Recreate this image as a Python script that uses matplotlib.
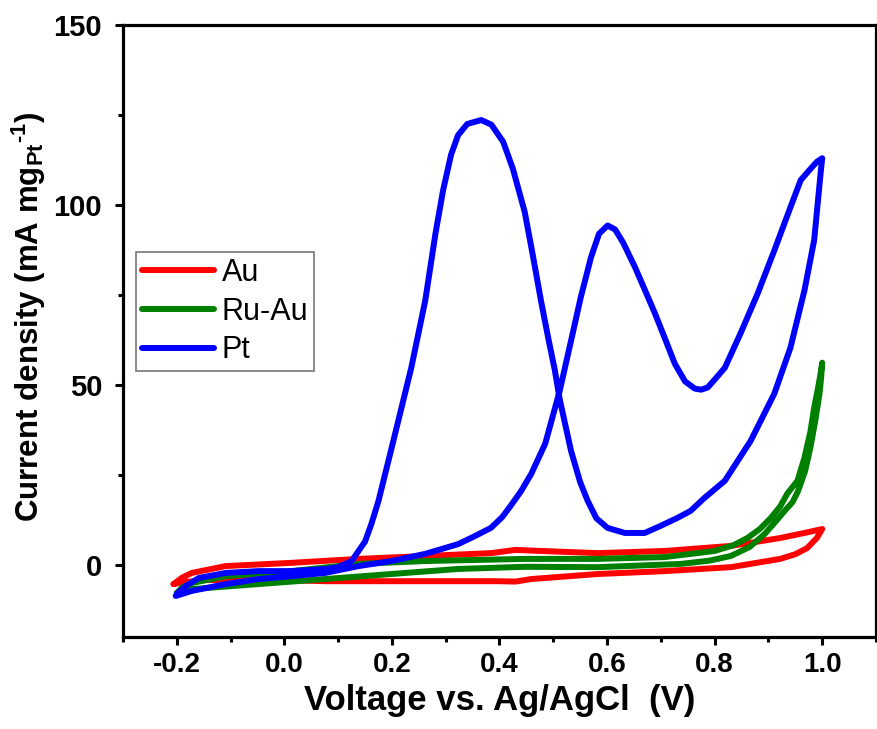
import matplotlib
matplotlib.use("Agg")
import matplotlib.pyplot as plt
from matplotlib.ticker import MultipleLocator

# CV loops (V vs Ag/AgCl, mA mg_Pt^-1)
au_v = [-0.206, -0.19, -0.172, -0.109, 0.013, 0.138, 0.262, 0.384, 0.43, 0.459, 0.583,
        0.707, 0.830, 0.922, 0.97, 1.0, 0.99, 0.972, 0.950, 0.922, 0.830, 0.707, 0.583,
        0.459, 0.43, 0.397, 0.323, 0.199, 0.076, -0.048, -0.15, -0.19, -0.206]
au_i = [-5.3, -3.5, -2.2, -0.3, 0.6, 1.7, 2.5, 3.3, 4.2, 4.0, 3.3,
        3.9, 5.3, 7.5, 9.0, 10.0, 7.5, 4.7, 3.0, 1.7, -0.6, -1.7, -2.5,
        -3.9, -4.6, -4.5, -4.5, -4.5, -4.5, -4.0, -4.2, -4.8, -5.3]

ruau_v = [-0.2, -0.19, -0.172, -0.109, 0.013, 0.138, 0.262, 0.447, 0.583, 0.707, 0.8,
          0.835, 0.861, 0.884, 0.904, 0.922, 0.935, 0.954, 0.967, 0.978, 0.985, 0.992,
          0.997, 1.0, 0.998, 0.995, 0.987, 0.978, 0.968, 0.955, 0.945, 0.930, 0.910,
          0.893, 0.865, 0.830, 0.790, 0.737, 0.583, 0.447, 0.323, 0.199, 0.076,
          -0.048, -0.172, -0.19, -0.2]
ruau_i = [-7.8, -6.2, -5.0, -3.1, -1.7, 0.3, 1.1, 1.7, 1.7, 2.2, 3.9,
          5.5, 7.5, 10.0, 13.0, 16.3, 19.8, 23.4, 29.8, 37.0, 43.7, 49.0,
          53.2, 56.2, 52.0, 47.6, 40.0, 32.6, 26.0, 20.5, 17.5, 15.0, 11.5,
          8.6, 5.0, 2.5, 1.2, 0.3, -0.6, -0.5, -1.1, -2.5, -3.9,
          -5.3, -6.7, -7.3, -7.8]

pt_v = [-0.202, -0.172, -0.109, -0.048, 0.013, 0.076, 0.138, 0.199, 0.262, 0.323,
        0.347, 0.384, 0.405, 0.421, 0.440, 0.459, 0.485, 0.512, 0.533, 0.551, 0.570,
        0.585, 0.601, 0.615, 0.630, 0.652, 0.670, 0.689, 0.710, 0.726, 0.745, 0.763,
        0.775, 0.787, 0.800, 0.819, 0.848, 0.880, 0.911, 0.941, 0.960, 0.975, 0.990,
        1.0, 0.997, 0.985, 0.967, 0.941, 0.911, 0.867, 0.819, 0.780, 0.755, 0.731,
        0.700, 0.670, 0.633, 0.601, 0.580, 0.564, 0.550, 0.533, 0.512, 0.503, 0.490,
        0.477, 0.462, 0.447, 0.425, 0.407, 0.385, 0.366, 0.340, 0.323, 0.310, 0.295,
        0.281, 0.262, 0.236, 0.206, 0.175, 0.162, 0.150, 0.125, 0.100, 0.076, 0.013,
        -0.048, -0.109, -0.159, -0.183, -0.2]
pt_i = [-8.6, -7.2, -5.3, -3.9, -3.1, -2.2, -0.3, 1.1, 3.1, 5.8,
        7.5, 10.3, 13.3, 16.5, 20.5, 25.3, 33.7, 48.4, 62.3, 74.3, 85.4,
        92.0, 94.3, 93.2, 89.5, 82.7, 76.5, 69.9, 62.0, 55.9, 51.0, 49.0,
        48.7, 49.3, 51.5, 54.8, 64.3, 75.4, 87.4, 99.4, 106.9, 109.5, 112.0,
        113.0, 108.8, 90.2, 76.3, 60.4, 47.6, 34.5, 23.4, 18.5, 15.0, 13.1,
        10.9, 8.9, 8.9, 10.3, 13.0, 17.8, 23.0, 31.7, 46.0, 54.0, 63.5,
        73.5, 86.0, 98.0, 110.0, 117.5, 122.3, 123.6, 122.5, 119.4, 114.0, 104.0,
        92.1, 73.5, 54.8, 36.5, 17.8, 11.5, 6.5, 1.1, -0.6, -1.1, -1.7,
        -1.7, -2.2, -3.6, -5.8, -8.0]

plt.rcParams['font.family'] = ['Liberation Sans', 'DejaVu Sans']
plt.rcParams['mathtext.fontset'] = 'custom'
plt.rcParams['mathtext.rm'] = 'Liberation Sans:bold'
plt.rcParams['mathtext.default'] = 'rm'

fig = plt.figure(figsize=(8.77, 7.29), dpi=100)
ax = fig.add_axes([123/877, 1-637/729, 753/877, 612/729])

for v, i, c, name in [(au_v, au_i, '#ff0000', 'Au'),
                      (ruau_v, ruau_i, '#008000', 'Ru-Au'),
                      (pt_v, pt_i, '#0000ff', 'Pt')]:
    ax.plot(v, i, color=c, lw=4.3, label=name,
            solid_joinstyle='round', solid_capstyle='round')

ax.set_xlim(-0.3, 1.1)
ax.set_ylim(-20, 150)
ax.xaxis.set_minor_locator(MultipleLocator(0.1))
ax.yaxis.set_major_locator(MultipleLocator(50))
ax.yaxis.set_minor_locator(MultipleLocator(25))
ax.set_xticks([-0.2, 0.0, 0.2, 0.4, 0.6, 0.8, 1.0])
ax.set_xticklabels(['-0.2', '0.0', '0.2', '0.4', '0.6', '0.8', '1.0'])

ax.tick_params(which='major', direction='out', length=6, width=2.2,
               labelsize=20, pad=5)
ax.tick_params(axis='y', which='major', labelsize=21, pad=9)
ax.tick_params(which='minor', direction='out', length=3.5, width=2.2)
for lab in ax.get_xticklabels() + ax.get_yticklabels():
    lab.set_fontweight('bold')
for s in ax.spines.values():
    s.set_linewidth(2.3)

ax.set_xlabel('Voltage vs. Ag/AgCl  (V)', fontsize=25, fontweight='bold', labelpad=4)
ax.set_ylabel(r'Current density (mA mg$_{Pt}$$^{‐1}$)', fontsize=22.5,
              fontweight='bold')
ax.yaxis.set_label_coords(-0.099, 0.523)

leg = ax.legend(loc='upper left', bbox_to_anchor=(0.017, 0.629), borderaxespad=0,
                fontsize=22, frameon=True, fancybox=False, handlelength=2.35,
                handletextpad=0.26, labelspacing=0.28, borderpad=0.2)
leg.get_frame().set_edgecolor('#555555')
leg.get_frame().set_linewidth(1.2)

fig.savefig('out.png', dpi=100)
